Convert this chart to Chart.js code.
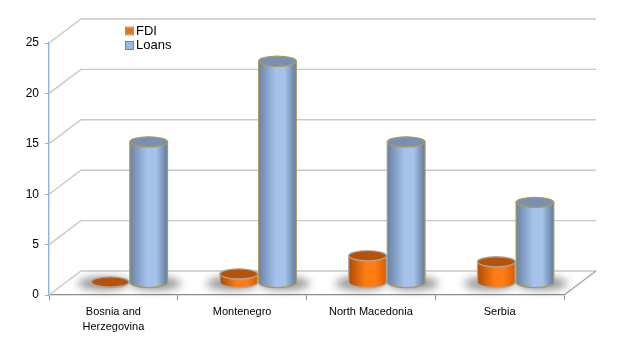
<!DOCTYPE html>
<html>
<head>
<meta charset="utf-8">
<script src="https://cdn.jsdelivr.net/npm/chart.js@4.4.1/dist/chart.umd.min.js"></script>
<style>
  html, body { margin: 0; padding: 0; background: #fff; }
  #wrap { width: 625px; height: 344px; position: relative; }
</style>
</head>
<body>
<div id="wrap">
  <canvas id="flows" width="625" height="344"></canvas>
</div>

<script>
// financing by country, EUR bn
var countries = [['Bosnia and', 'Herzegovina'], 'Montenegro', 'North Macedonia', 'Serbia'];
var fdiValues = [0.1, 0.9, 2.7, 2.1];
var loanValues = [14, 22, 14, 8];
var yMax = 25;
var yStep = 5;

// depth of the fake 3d box and where the cylinders sit in it
var DEPTH_X = 32, DEPTH_Y = -24;
var MID_X = 16, MID_Y = -12;

var looks = {
  FDI: {
    edge: '#b04a00', mid: '#ff7d14', edge2: '#d85c00',
    top: '#b85206', outline: '#a8a8a8', swatch: '#f0700c', swatchBorder: '#9a9a9a',
    shadowShift: -7
  },
  Loans: {
    edge: '#6a82a6', mid: '#a4c2ea', edge2: '#627a9c',
    top: '#7a90b2', outline: '#a89a5c', swatch: '#9dbbe2', swatchBorder: '#8f8650',
    shadowShift: 7
  }
};

function ellipse(ctx, cx, cy, rx, ry) {
  ctx.beginPath();
  ctx.ellipse(cx, cy, rx, ry, 0, 0, Math.PI * 2);
}

var box3d = {
  id: 'box3d',
  beforeDatasetsDraw: function(chart) {
    var ctx = chart.ctx, a = chart.chartArea, y = chart.scales.y;
    ctx.save();
    ctx.strokeStyle = '#c9c9c9';
    ctx.lineWidth = 1.4;
    for (var v = 0; v <= yMax; v += yStep) {
      var py = y.getPixelForValue(v);
      ctx.beginPath();
      ctx.moveTo(a.left, py);
      ctx.lineTo(a.left + DEPTH_X, py + DEPTH_Y);
      ctx.lineTo(a.right + DEPTH_X, py + DEPTH_Y);
      ctx.stroke();
    }
    // right edge of the floor
    ctx.strokeStyle = '#a6a6a6';
    ctx.beginPath();
    ctx.moveTo(a.right, a.bottom);
    ctx.lineTo(a.right + DEPTH_X, a.bottom + DEPTH_Y);
    ctx.stroke();
    ctx.restore();
  },
  afterDatasetsDraw: function(chart) {
    var ctx = chart.ctx;
    var bars = [];
    chart.data.datasets.forEach(function(ds, i) {
      chart.getDatasetMeta(i).data.forEach(function(el) {
        bars.push({ el: el, look: looks[ds.label] });
      });
    });

    // soft floor shadows first
    ctx.save();
    ctx.filter = 'blur(4px)';
    bars.forEach(function(b) {
      var p = b.el.getProps(['x', 'y', 'base', 'width'], true);
      var cx = p.x + MID_X + b.look.shadowShift, by = p.base + MID_Y, rx = p.width / 2;
      ctx.fillStyle = 'rgba(40,40,40,0.5)';
      ellipse(ctx, cx, by + 1, rx + 6, rx * 0.26 + 1.5);
      ctx.fill();
    });
    ctx.restore();

    bars.forEach(function(b) {
      var p = b.el.getProps(['x', 'y', 'base', 'width'], true);
      var L = b.look;
      var cx = p.x + MID_X, rx = p.width / 2 - 0.5, ry = rx * 0.27;
      var top = p.y + MID_Y, base = p.base + MID_Y;

      var g = ctx.createLinearGradient(cx - rx, 0, cx + rx, 0);
      g.addColorStop(0, L.edge);
      g.addColorStop(0.45, L.mid);
      g.addColorStop(0.7, L.mid);
      g.addColorStop(1, L.edge2);

      ctx.save();
      ctx.beginPath();
      ctx.moveTo(cx - rx, top);
      ctx.lineTo(cx - rx, base);
      ctx.ellipse(cx, base, rx, ry, 0, Math.PI, 0, true);
      ctx.lineTo(cx + rx, top);
      ctx.closePath();
      ctx.fillStyle = g;
      ctx.fill();
      ctx.strokeStyle = L.outline;
      ctx.lineWidth = 1.3;
      ctx.stroke();

      ellipse(ctx, cx, top, rx, ry);
      ctx.fillStyle = L.top;
      ctx.fill();
      ctx.stroke();
      ctx.restore();
    });

    // legend
    ctx.save();
    ctx.font = '13px "Liberation Sans", Arial, sans-serif';
    ctx.textBaseline = 'middle';
    chart.data.datasets.forEach(function(ds, i) {
      var L = looks[ds.label];
      var ly = 31 + i * 14.5;
      ctx.fillStyle = L.swatch;
      ctx.fillRect(126, ly - 3.5, 7, 7);
      ctx.strokeStyle = L.swatchBorder;
      ctx.lineWidth = 1;
      ctx.strokeRect(125.5, ly - 4, 8, 8);
      ctx.fillStyle = '#000';
      ctx.fillText(ds.label, 136, ly);
    });
    ctx.restore();
  }
};

var ctx = document.getElementById('flows');
new Chart(ctx, {
  type: 'bar',
  data: {
    labels: countries,
    datasets: [
      { label: 'FDI', data: fdiValues, backgroundColor: 'rgba(0,0,0,0)' },
      { label: 'Loans', data: loanValues, backgroundColor: 'rgba(0,0,0,0)' }
    ]
  },
  options: {
    responsive: false,
    animation: false,
    maintainAspectRatio: false,
    layout: { padding: { top: 43, right: 61, left: 0, bottom: 0 } },
    datasets: { bar: { categoryPercentage: 0.6, barPercentage: 1.0 } },
    plugins: { legend: { display: false }, tooltip: { enabled: false } },
    scales: {
      x: {
        afterFit: function(s) { s.height = 49; },
        grid: { offset: true, drawOnChartArea: false, tickLength: 5, color: '#8c8c8c' },
        border: { color: '#8c8c8c', width: 1.3 },
        ticks: {
          color: '#000',
          padding: 4,
          maxRotation: 0,
          minRotation: 0,
          autoSkip: false,
          font: { family: '"Liberation Sans", Arial, sans-serif', size: 11, lineHeight: 1.4 }
        }
      },
      y: {
        min: 0,
        max: yMax,
        afterFit: function(s) { s.width = 49; },
        grid: { drawOnChartArea: false, tickLength: 4, color: '#8db3e2' },
        border: { color: '#8db3e2', width: 1.4 },
        ticks: {
          stepSize: yStep,
          color: '#000',
          padding: 6,
          font: { family: '"Liberation Sans", Arial, sans-serif', size: 12 }
        }
      }
    }
  },
  plugins: [box3d]
});
</script>
</body>
</html>
